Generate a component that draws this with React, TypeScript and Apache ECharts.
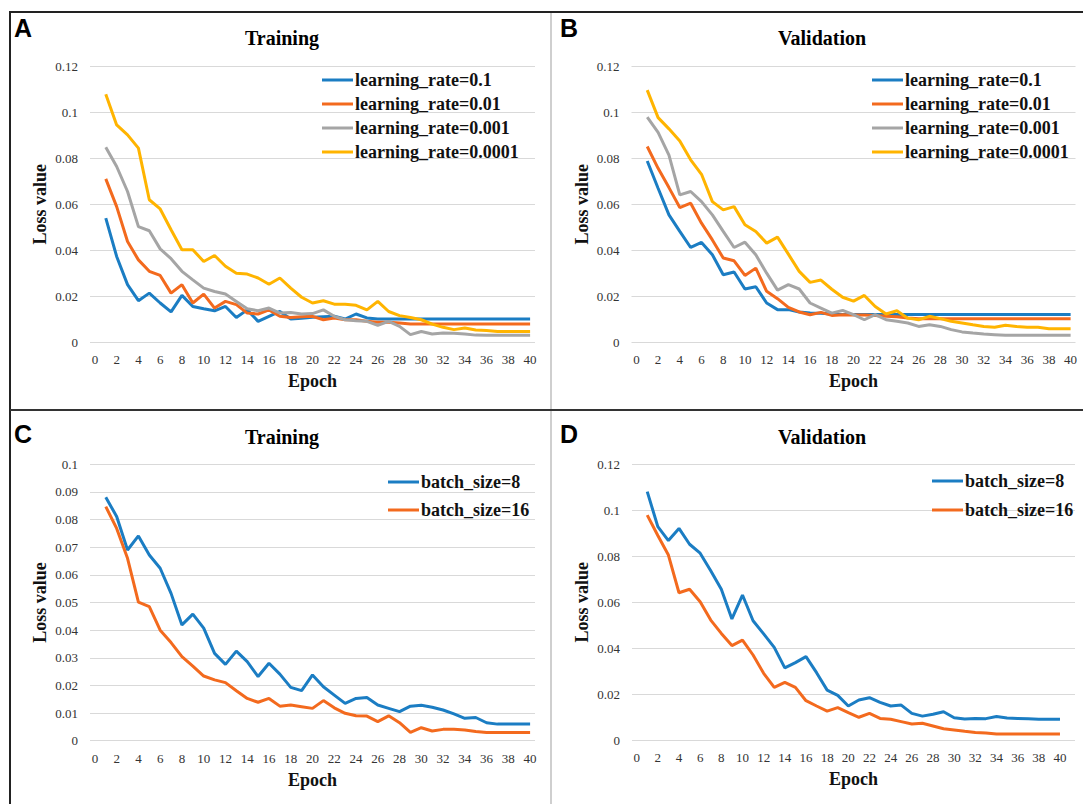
import React, { useEffect, useRef } from "react";
import * as echarts from "echarts";

const epochs = [1, 2, 3, 4, 5, 6, 7, 8, 9, 10, 11, 12, 13, 14, 15, 16, 17, 18, 19, 20, 21, 22, 23, 24, 25, 26, 27, 28, 29, 30, 31, 32, 33, 34, 35, 36, 37, 38, 39, 40];
const xTickLabels = [0, 2, 4, 6, 8, 10, 12, 14, 16, 18, 20, 22, 24, 26, 28, 30, 32, 34, 36, 38, 40];

const lrNames = ["learning_rate=0.1", "learning_rate=0.01", "learning_rate=0.001", "learning_rate=0.0001"];
const bsNames = ["batch_size=8", "batch_size=16"];

// Panel A: Training (learning rate)
const trainLr01 = [0.054, 0.0373, 0.025, 0.018, 0.0213, 0.017, 0.0131, 0.0203, 0.0155, 0.0145, 0.0136, 0.0155, 0.0107, 0.014, 0.009, 0.0112, 0.0133, 0.01, 0.0104, 0.0108, 0.011, 0.0112, 0.01, 0.0122, 0.0105, 0.01, 0.01, 0.01, 0.01, 0.01, 0.01, 0.01, 0.01, 0.01, 0.01, 0.01, 0.01, 0.01, 0.01, 0.01];
const trainLr001 = [0.0711, 0.059, 0.0438, 0.0358, 0.0308, 0.029, 0.0213, 0.025, 0.017, 0.0209, 0.0148, 0.0177, 0.0163, 0.0126, 0.0122, 0.014, 0.0112, 0.0107, 0.011, 0.0112, 0.0097, 0.0104, 0.0097, 0.0097, 0.009, 0.0086, 0.0086, 0.0083, 0.0078, 0.0078, 0.0078, 0.0078, 0.0078, 0.0078, 0.0078, 0.0078, 0.0078, 0.0078, 0.0078, 0.0078];
const trainLr0001 = [0.0849, 0.0765, 0.0656, 0.0503, 0.0485, 0.0406, 0.0363, 0.0308, 0.0271, 0.0235, 0.022, 0.0209, 0.0177, 0.0145, 0.0136, 0.0148, 0.0126, 0.0129, 0.0122, 0.0124, 0.014, 0.0112, 0.0097, 0.0093, 0.009, 0.0073, 0.009, 0.0068, 0.0032, 0.0046, 0.0035, 0.0039, 0.0038, 0.0035, 0.003, 0.0029, 0.0029, 0.0029, 0.0029, 0.0029];
const trainLr00001 = [0.108, 0.0946, 0.0903, 0.0845, 0.062, 0.058, 0.0489, 0.0402, 0.0402, 0.0351, 0.0377, 0.033, 0.03, 0.0296, 0.0279, 0.0252, 0.0279, 0.0235, 0.0195, 0.017, 0.018, 0.0165, 0.0165, 0.016, 0.014, 0.0177, 0.0133, 0.0115, 0.0107, 0.0097, 0.0078, 0.0064, 0.0054, 0.0061, 0.0052, 0.005, 0.0046, 0.0046, 0.0046, 0.0046];

// Panel B: Validation (learning rate)
const valLr01 = [0.0789, 0.067, 0.0554, 0.0482, 0.0412, 0.0434, 0.038, 0.0293, 0.0305, 0.0231, 0.0241, 0.017, 0.0141, 0.0141, 0.0131, 0.0126, 0.0125, 0.0122, 0.012, 0.012, 0.012, 0.012, 0.012, 0.012, 0.012, 0.012, 0.012, 0.012, 0.012, 0.012, 0.012, 0.012, 0.012, 0.012, 0.012, 0.012, 0.012, 0.012, 0.012, 0.012];
const valLr001 = [0.0852, 0.0757, 0.0673, 0.0586, 0.0605, 0.0518, 0.0445, 0.0366, 0.0354, 0.029, 0.0322, 0.0221, 0.0189, 0.0151, 0.0131, 0.0119, 0.0129, 0.0116, 0.0119, 0.0118, 0.0118, 0.0115, 0.0112, 0.011, 0.0105, 0.0101, 0.0101, 0.0101, 0.0101, 0.0101, 0.0101, 0.0101, 0.0101, 0.0101, 0.0101, 0.0101, 0.0101, 0.0101, 0.0101, 0.0101];
const valLr0001 = [0.098, 0.0914, 0.0815, 0.0641, 0.0656, 0.0612, 0.0554, 0.0482, 0.0412, 0.0435, 0.038, 0.03, 0.0226, 0.025, 0.0231, 0.017, 0.0148, 0.0126, 0.0138, 0.0119, 0.0097, 0.0119, 0.0097, 0.009, 0.0083, 0.0068, 0.0075, 0.0068, 0.0054, 0.0044, 0.0039, 0.0035, 0.0032, 0.0029, 0.0029, 0.0029, 0.0029, 0.0029, 0.0029, 0.0029];
const valLr00001 = [0.1098, 0.0978, 0.0929, 0.0876, 0.0794, 0.0731, 0.0612, 0.0576, 0.059, 0.0511, 0.0482, 0.0431, 0.0457, 0.0383, 0.0308, 0.026, 0.027, 0.023, 0.0195, 0.0178, 0.0203, 0.0155, 0.0122, 0.0136, 0.0104, 0.0097, 0.0112, 0.0102, 0.009, 0.0083, 0.0075, 0.0068, 0.0064, 0.0073, 0.0068, 0.0064, 0.0064, 0.0058, 0.0058, 0.0058];

// Panel C: Training (batch size)
const trainBs8 = [0.0881, 0.0811, 0.069, 0.0741, 0.0672, 0.0624, 0.0533, 0.0419, 0.0458, 0.0407, 0.0316, 0.0276, 0.0324, 0.0286, 0.0232, 0.028, 0.0241, 0.0193, 0.0181, 0.0238, 0.0195, 0.0165, 0.0135, 0.0153, 0.0156, 0.0129, 0.0117, 0.0105, 0.0125, 0.0128, 0.0121, 0.0111, 0.0097, 0.0081, 0.0084, 0.0065, 0.006, 0.006, 0.006, 0.006];
const trainBs16 = [0.0847, 0.0768, 0.066, 0.0501, 0.0485, 0.04, 0.0355, 0.0304, 0.027, 0.0234, 0.022, 0.021, 0.0181, 0.0153, 0.0139, 0.0153, 0.0125, 0.0129, 0.0123, 0.0117, 0.0145, 0.0119, 0.0099, 0.009, 0.0089, 0.0069, 0.009, 0.0065, 0.003, 0.0047, 0.0035, 0.0041, 0.0041, 0.0039, 0.0033, 0.003, 0.003, 0.003, 0.003, 0.003];

// Panel D: Validation (batch size)
const valBs8 = [0.1081, 0.0929, 0.0868, 0.0921, 0.0852, 0.0813, 0.0737, 0.0656, 0.0527, 0.0631, 0.0519, 0.0462, 0.0403, 0.0314, 0.0337, 0.0363, 0.0293, 0.0217, 0.0194, 0.0148, 0.0174, 0.0184, 0.0164, 0.0148, 0.0152, 0.0116, 0.0104, 0.0112, 0.0123, 0.0097, 0.0091, 0.0094, 0.0093, 0.0102, 0.0096, 0.0094, 0.0092, 0.009, 0.009, 0.009];
const valBs16 = [0.0979, 0.089, 0.0805, 0.0641, 0.0656, 0.0602, 0.0522, 0.0464, 0.0411, 0.0435, 0.037, 0.029, 0.0229, 0.0251, 0.0229, 0.0171, 0.0148, 0.0126, 0.0141, 0.0119, 0.0099, 0.0116, 0.0094, 0.009, 0.008, 0.007, 0.0073, 0.0061, 0.0049, 0.0044, 0.0038, 0.0033, 0.003, 0.0026, 0.0026, 0.0026, 0.0026, 0.0026, 0.0026, 0.0026];

const COLORS = ["#1B7DC3", "#F36A1E", "#A5A5A5", "#FFB400"];
const SERIF = "'Liberation Serif', 'Times New Roman', serif";
const SANS = "'Liberation Sans', Arial, sans-serif";

export default function App() {
  const ref = useRef<HTMLDivElement>(null);

  useEffect(() => {
    if (!ref.current) return;
    const chart = echarts.init(ref.current, undefined, { renderer: "svg" });

    const grids = [
      { left: 90, top: 66.7, width: 445, height: 275.3 },
      { left: 631.5, top: 66.7, width: 444, height: 275.3 },
      { left: 90, top: 464.3, width: 445, height: 276.4 },
      { left: 632, top: 464.3, width: 443, height: 275.7 },
    ];
    const xRanges = [
      [-0.45, 40.45],
      [-0.45, 40.45],
      [-0.45, 40.45],
      [-0.44, 41.42],
    ];
    const yMax = [0.12, 0.12, 0.1, 0.12];
    const yStep = [0.02, 0.02, 0.01, 0.02];

    const xAxis = grids.map((_, i) => ({
      gridIndex: i,
      type: "value",
      min: xRanges[i][0],
      max: xRanges[i][1],
      name: "Epoch",
      nameLocation: "middle",
      nameGap: 30,
      nameTextStyle: { fontFamily: SERIF, fontWeight: "bold", fontSize: 18, color: "#111" },
      axisLine: { show: false },
      axisTick: { show: false },
      splitLine: { show: false },
      axisLabel: {
        customValues: xTickLabels,
        fontFamily: SERIF,
        fontSize: 13,
        color: "#333",
        margin: 11,
      },
    }));

    const yAxis = grids.map((_, i) => ({
      gridIndex: i,
      type: "value",
      min: 0,
      max: yMax[i],
      interval: yStep[i],
      name: "Loss value",
      nameLocation: "middle",
      nameRotate: 90,
      nameGap: 41,
      nameTextStyle: { fontFamily: SERIF, fontWeight: "bold", fontSize: 18, color: "#111" },
      axisLine: { show: false },
      axisTick: { show: false },
      splitLine: { show: true, lineStyle: { color: "#d9d9d9", width: 1.2 } },
      axisLabel: { fontFamily: SERIF, fontSize: 13, color: "#333", margin: 12 },
    }));

    const mk = (name: string, data: number[], idx: number, color: string) => ({
      type: "line",
      name,
      xAxisIndex: idx,
      yAxisIndex: idx,
      symbol: "none",
      data: epochs.map((e, k) => [e, data[k]]),
      lineStyle: { color, width: 3 },
      itemStyle: { color },
      z: 3,
    });

    const series = [
      mk(lrNames[0], trainLr01, 0, COLORS[0]),
      mk(lrNames[1], trainLr001, 0, COLORS[1]),
      mk(lrNames[2], trainLr0001, 0, COLORS[2]),
      mk(lrNames[3], trainLr00001, 0, COLORS[3]),
      mk(lrNames[0], valLr01, 1, COLORS[0]),
      mk(lrNames[1], valLr001, 1, COLORS[1]),
      mk(lrNames[2], valLr0001, 1, COLORS[2]),
      mk(lrNames[3], valLr00001, 1, COLORS[3]),
      mk(bsNames[0], trainBs8, 2, COLORS[0]),
      mk(bsNames[1], trainBs16, 2, COLORS[1]),
      mk(bsNames[0], valBs8, 3, COLORS[0]),
      mk(bsNames[1], valBs16, 3, COLORS[1]),
    ];

    const legendText = { fontFamily: SERIF, fontWeight: "bold", fontSize: 18, color: "#111", lineHeight: 18, padding: [0, 0, 0, -3] };
    const legendBase = {
      orient: "vertical",
      icon: "rect",
      itemWidth: 31,
      itemHeight: 3,
      padding: 0,
      selectedMode: false,
      textStyle: legendText,
    };
    const legend = [
      { ...legendBase, left: 322, top: 71, itemGap: 6, data: lrNames },
      { ...legendBase, left: 872, top: 71, itemGap: 6, data: lrNames },
      { ...legendBase, left: 388, top: 473, itemGap: 10, data: bsNames },
      { ...legendBase, left: 932, top: 472, itemGap: 11, data: bsNames },
    ];

    const line = (x1: number, y1: number, x2: number, y2: number, stroke: string, w: number) => ({
      type: "line",
      shape: { x1, y1, x2, y2 },
      style: { stroke, lineWidth: w },
      silent: true,
      z: 10,
    });
    const txt = (text: string, x: number, y: number, font: string, align: string) => ({
      type: "text",
      x,
      y,
      style: { text, font, fill: "#000", align, verticalAlign: "middle" },
      silent: true,
      z: 10,
    });

    const graphic = [
      line(551, 12, 551, 804, "#cfcfcf", 2),
      line(10, 12, 1083, 12, "#222", 2),
      line(10, 11, 10, 804, "#222", 2),
      line(10, 410, 1083, 410, "#333", 2),
      txt("A", 14, 28, `bold 25px ${SANS}`, "left"),
      txt("B", 560, 28, `bold 25px ${SANS}`, "left"),
      txt("C", 14, 434, `bold 25px ${SANS}`, "left"),
      txt("D", 560, 434, `bold 25px ${SANS}`, "left"),
      txt("Training", 282, 38, `bold 20px ${SERIF}`, "center"),
      txt("Validation", 822, 38, `bold 20px ${SERIF}`, "center"),
      txt("Training", 282, 437, `bold 20px ${SERIF}`, "center"),
      txt("Validation", 822, 437, `bold 20px ${SERIF}`, "center"),
    ];

    chart.setOption({
      animation: false,
      backgroundColor: "#fff",
      grid: grids,
      xAxis,
      yAxis,
      legend,
      series,
      graphic,
    } as any);

    return () => chart.dispose();
  }, []);

  return (
    <div
      ref={ref}
      style={{ position: "absolute", left: 0, top: 0, width: 1083, height: 804 }}
    />
  );
}
